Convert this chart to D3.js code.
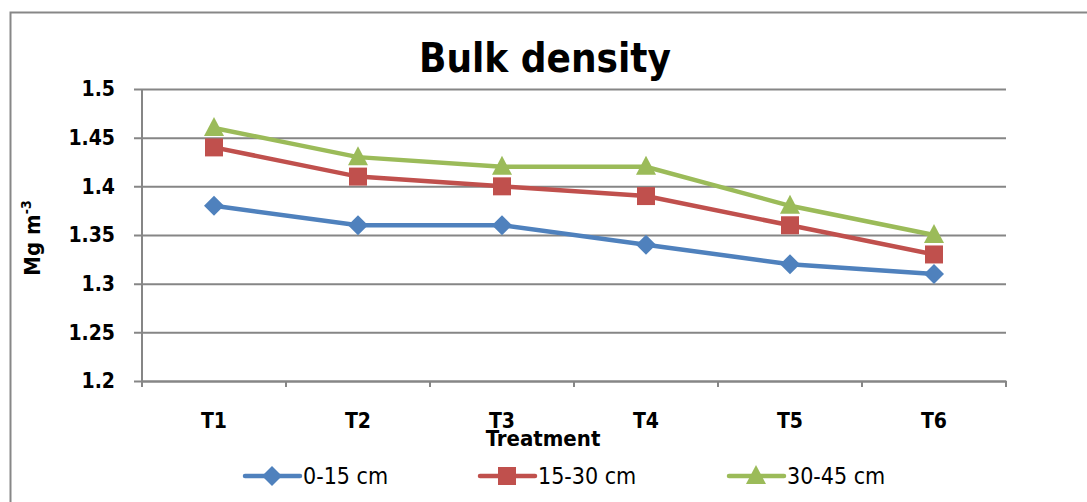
<!DOCTYPE html>
<meta charset="utf-8">
<script src="https://d3js.org/d3.v7.min.js"></script>
<style>
  body { margin: 0; background: #fff; }
  text { font-family: "Liberation Sans Narrow", "DejaVu Sans Condensed", "Liberation Sans", sans-serif; }
</style>
<div id="chart"></div>
<script>
  // data
  var treatments = ["T1", "T2", "T3", "T4", "T5", "T6"];
  var depths = ["0-15 cm", "15-30 cm", "30-45 cm"];
  var depth0_15 = [1.38, 1.36, 1.36, 1.34, 1.32, 1.31];
  var depth15_30 = [1.44, 1.41, 1.40, 1.39, 1.36, 1.33];
  var depth30_45 = [1.46, 1.43, 1.42, 1.42, 1.38, 1.35];
  var yTicks = [1.2, 1.25, 1.3, 1.35, 1.4, 1.45, 1.5];

  var colors = ["#4F81BD", "#C0504D", "#9BBB59"];
  var seriesValues = [depth0_15, depth15_30, depth30_45];

  // diamond = square turned 45 deg, like the spreadsheet marker
  var markerShape = [
    function () { return "M0,-10 L10,0 L0,10 L-10,0 Z"; },
    function () { return "M-9,-9 H9 V9 H-9 Z"; },
    function () { return "M0,-11 L10,8 L-10,8 Z"; }
  ];

  var W = 1087, H = 502;
  var margin = { top: 89, right: 81, bottom: 121, left: 142 },
    width = W - margin.left - margin.right,
    height = H - margin.top - margin.bottom;

  var svg = d3.select("#chart").append("svg")
    .attr("width", W)
    .attr("height", H);

  // outer chart border (only the top and left edges are inside the crop)
  svg.append("path")
    .attr("d", "M10.5," + H + " V12.5 H" + W)
    .attr("fill", "none")
    .attr("stroke", "#878787")
    .attr("stroke-width", 2);

  var g = svg.append("g")
    .attr("transform", "translate(" + margin.left + "," + margin.top + ")");

  var x = d3.scaleBand().domain(treatments).range([0, width]);
  var y = d3.scaleLinear().domain([1.2, 1.5]).range([height, 0]);

  // gridlines + y axis
  var yAxis = g.append("g")
    .call(d3.axisLeft(y).tickValues(yTicks).tickSize(-width).tickPadding(27)
      .tickFormat(function (d) { return d3.format("")(+d.toFixed(2)); }));
  yAxis.select(".domain").remove();
  yAxis.selectAll(".tick line")
    .attr("x1", -8)
    .attr("stroke", "#868686")
    .attr("stroke-width", 2);
  yAxis.selectAll(".tick text")
    .style("font-size", "21px")
    .style("font-weight", "bold")
    .attr("fill", "#000");

  // left axis line
  g.append("line")
    .attr("x1", 0).attr("x2", 0)
    .attr("y1", 0).attr("y2", height + 6)
    .attr("stroke", "#868686")
    .attr("stroke-width", 2);

  // x axis with ticks at category boundaries
  var xAxis = g.append("g")
    .attr("transform", "translate(0," + height + ")")
    .call(d3.axisBottom(x).tickSize(0).tickPadding(32));
  xAxis.select(".domain").attr("stroke", "#868686").attr("stroke-width", 2);
  xAxis.selectAll(".tick text")
    .style("font-size", "21px")
    .style("font-weight", "bold")
    .attr("fill", "#000");
  xAxis.selectAll(".bnd")
    .data(d3.range(treatments.length + 1))
    .enter()
    .append("line")
    .attr("x1", function (i) { return i * x.bandwidth(); })
    .attr("x2", function (i) { return i * x.bandwidth(); })
    .attr("y1", 0).attr("y2", 6)
    .attr("stroke", "#868686")
    .attr("stroke-width", 2);

  var line = d3.line()
    .x(function (d, i) { return x(treatments[i]) + x.bandwidth() / 2; })
    .y(function (d) { return y(d); });

  seriesValues.forEach(function (vals, s) {
    g.append("path")
      .datum(vals)
      .attr("d", line)
      .attr("fill", "none")
      .attr("stroke", colors[s])
      .attr("stroke-width", 4.5);
    g.selectAll(".m" + s)
      .data(vals)
      .enter()
      .append("path")
      .attr("d", markerShape[s])
      .attr("transform", function (d, i) {
        return "translate(" + (x(treatments[i]) + x.bandwidth() / 2) + "," + y(d) + ")";
      })
      .attr("fill", colors[s]);
  });

  // title
  svg.append("text")
    .attr("x", 545)
    .attr("y", 72)
    .attr("text-anchor", "middle")
    .style("font-size", "40px")
    .style("font-weight", "bold")
    .text("Bulk density");

  // y axis title
  var yt = svg.append("text")
    .attr("transform", "translate(40,238) rotate(-90)")
    .attr("text-anchor", "middle")
    .style("font-size", "22px")
    .style("font-weight", "bold");
  yt.append("tspan").text("Mg m");
  yt.append("tspan").attr("dy", -9).style("font-size", "14px").text("-3");

  // x axis title
  svg.append("text")
    .attr("x", 543)
    .attr("y", 446)
    .attr("text-anchor", "middle")
    .style("font-size", "22px")
    .style("font-weight", "bold")
    .text("Treatment");

  // legend
  var legendX = [245, 480, 729];
  var leg = svg.selectAll(".legend")
    .data(depths)
    .enter()
    .append("g")
    .attr("transform", function (d, i) { return "translate(" + legendX[i] + ",476)"; });
  leg.append("line")
    .attr("x1", 0).attr("x2", 55)
    .attr("stroke", function (d, i) { return colors[i]; })
    .attr("stroke-width", 4.5)
    .attr("stroke-linecap", "round");
  leg.append("path")
    .attr("d", function (d, i) { return markerShape[i](); })
    .attr("transform", "translate(27,0)")
    .attr("fill", function (d, i) { return colors[i]; });
  leg.append("text")
    .attr("x", 58)
    .attr("y", 8)
    .style("font-size", "23px")
    .text(function (d) { return d; });
</script>
